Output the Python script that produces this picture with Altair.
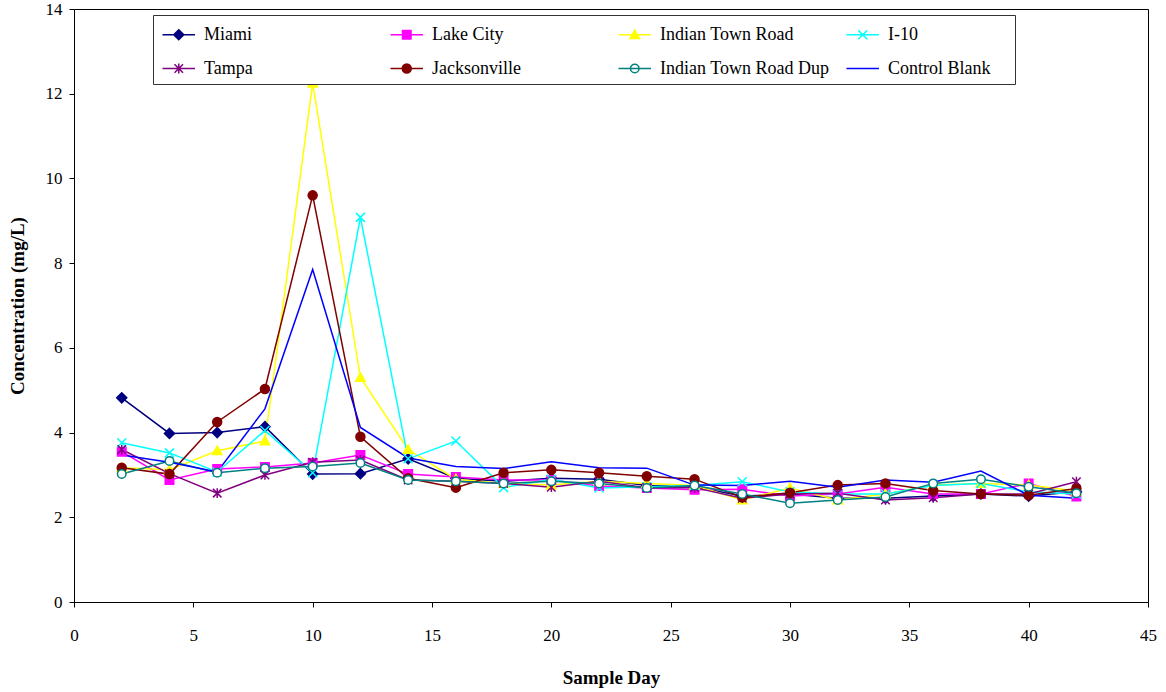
import altair as alt
import pandas as pd

# ---------------- data ----------------
days = [2, 4, 6, 8, 10, 12, 14, 16, 18, 20, 22, 24, 26, 28, 30, 32, 34, 36, 38, 40, 42]

miami = [4.82, 3.98, 4.00, 4.14, 3.02, 3.03, 3.38, 2.92, 2.85, 2.92, 2.90, 2.75, 2.72, 2.50, 2.55, 2.45, 2.45, 2.50, 2.55, 2.50, 2.60]
lake_city = [3.55, 2.88, 3.14, 3.19, 3.28, 3.47, 3.02, 2.95, 2.88, 2.88, 2.74, 2.69, 2.65, 2.66, 2.50, 2.55, 2.71, 2.55, 2.55, 2.80, 2.49]
indian_town_road = [3.17, 3.12, 3.57, 3.80, 12.25, 5.30, 3.60, 2.90, 2.80, 2.76, 2.85, 2.80, 2.75, 2.41, 2.69, 2.41, 2.55, 2.76, 2.80, 2.76, 2.62]
i10 = [3.76, 3.52, 3.07, 4.05, 3.05, 9.08, 3.38, 3.80, 2.70, 2.90, 2.69, 2.72, 2.75, 2.84, 2.60, 2.55, 2.55, 2.75, 2.80, 2.60, 2.55]
tampa = [3.60, 3.03, 2.57, 3.00, 3.30, 3.35, 2.88, 2.85, 2.80, 2.71, 2.85, 2.70, 2.70, 2.45, 2.55, 2.57, 2.41, 2.46, 2.55, 2.55, 2.84]
jacksonville = [3.17, 3.02, 4.25, 5.03, 9.60, 3.90, 2.92, 2.70, 3.05, 3.12, 3.05, 2.97, 2.90, 2.47, 2.58, 2.76, 2.80, 2.63, 2.55, 2.52, 2.68]
itr_dup = [3.02, 3.33, 3.05, 3.16, 3.20, 3.28, 2.88, 2.85, 2.80, 2.85, 2.80, 2.69, 2.75, 2.55, 2.33, 2.41, 2.48, 2.80, 2.90, 2.72, 2.57]
control_blank = [3.47, 3.30, 3.07, 4.56, 7.85, 4.12, 3.40, 3.20, 3.15, 3.31, 3.17, 3.16, 2.76, 2.75, 2.85, 2.71, 2.88, 2.83, 3.09, 2.52, 2.45]

series_names = ["Miami", "Lake City", "Indian Town Road", "I-10",
                "Tampa", "Jacksonville", "Indian Town Road Dup", "Control Blank"]
series_values = [miami, lake_city, indian_town_road, i10,
                 tampa, jacksonville, itr_dup, control_blank]

# ---------------- styles ----------------
colors = ["#000080", "#FF00FF", "#FFFF00", "#00FFFF",
          "#800080", "#800000", "#008080", "#0000FF"]
fills = ["#000080", "#FF00FF", "#FFFF00", "transparent",
         "transparent", "#800000", "#FFFFFF", "transparent"]


def diamond(s, c=0.0):
    return f"M{c},{-s}L{c+s},0L{c},{s}L{c-s},0Z"


def square(s, c=0.0):
    return f"M{c-s},{-s}L{c+s},{-s}L{c+s},{s}L{c-s},{s}Z"


def triangle(s, c=0.0):
    return f"M{c},{-s}L{c+s},{0.8*s}L{c-s},{0.8*s}Z"


def xshape(s, c=0.0):
    return f"M{c-s},{-s}L{c+s},{s}M{c-s},{s}L{c+s},{-s}"


def star(s, c=0.0):
    return xshape(s, c) + f"M{c},{-1.15*s}L{c},{1.15*s}"


def circle(s, c=0.0):
    return f"M{c+s},0A{s},{s} 0 1,1 {c-s},0A{s},{s} 0 1,1 {c+s},0Z"


shape_fns = [diamond, square, triangle, xshape, star, circle, circle]
shape_scale = [1.0, 0.85, 0.95, 0.9, 0.85, 0.9, 0.85]

main_paths = [fn(k) for fn, k in zip(shape_fns, shape_scale)]
leg_k = 0.4
leg_c = 0.5
leg_line = f"M{leg_c-1.3},0L{leg_c+1.3},0"
legend_paths = [leg_line + fn(k * leg_k, leg_c) for fn, k in zip(shape_fns, shape_scale)] + [leg_line]

rows = []
for name, vals in zip(series_names, series_values):
    for d, v in zip(days, vals):
        rows.append({"day": d, "value": v, "series": name})
df = pd.DataFrame(rows)

FONT = "Liberation Serif"
NB = "\u00a0"
ZW = "\u200b"
label_expr = (
    f"datum.label == 'Miami' ? 'Miami{NB*27}{ZW}' : "
    f"datum.label == 'Jacksonville' ? 'Jacksonville{NB*18}{ZW}' : "
    f"datum.label == 'Control Blank' ? 'Control Blank{NB*4}{ZW}' : datum.label"
)

x_enc = alt.X("day:Q",
              scale=alt.Scale(domain=[0, 45], nice=False),
              axis=alt.Axis(values=list(range(0, 46, 5)), grid=False, tickSize=5,
                            labelFont=FONT, labelFontSize=17, labelColor="black",
                            labelPadding=20, labelFlush=False,
                            title="Sample Day", titleFont=FONT, titleFontSize=19,
                            titleFontWeight="bold", titleColor="black", titlePadding=25,
                            domainColor="black", tickColor="black"))
y_enc = alt.Y("value:Q",
              scale=alt.Scale(domain=[0, 14], nice=False),
              axis=alt.Axis(values=list(range(0, 15, 2)), grid=False, tickSize=5,
                            labelFont=FONT, labelFontSize=17, labelColor="black",
                            labelPadding=7,
                            title="Concentration (mg/L)", titleFont=FONT, titleFontSize=19,
                            titleFontWeight="bold", titleColor="black", titlePadding=18,
                            domainColor="black", tickColor="black"))

lines = alt.Chart(df).mark_line(strokeWidth=1.5).encode(
    x=x_enc, y=y_enc,
    stroke=alt.Stroke("series:N", scale=alt.Scale(domain=series_names, range=colors), legend=None),
    order=alt.Order("day:Q"),
)

pts_names = series_names[:7]
points = alt.Chart(df).transform_filter(
    alt.datum.series != "Control Blank"
).mark_point(filled=True, strokeWidth=1.5, size=100, opacity=1).encode(
    x=x_enc, y=y_enc,
    stroke=alt.Stroke("series:N", scale=alt.Scale(domain=pts_names, range=colors[:7]), legend=None),
    fill=alt.Fill("series:N", scale=alt.Scale(domain=pts_names, range=fills[:7]), legend=None),
    shape=alt.Shape("series:N", scale=alt.Scale(domain=pts_names, range=main_paths), legend=None),
)

leg = alt.Legend(title=None, orient="none", legendX=79, legendY=6, columns=4,
                 direction="horizontal",
                 symbolSize=625, symbolStrokeWidth=1.5, symbolOpacity=1,
                 labelFont=FONT, labelFontSize=18, labelColor="black", labelLimit=400,
                 labelOffset=18, columnPadding=13, rowPadding=11, padding=6,
                 strokeColor="#333333", fillColor="white", gridAlign="each",
                 labelExpr=label_expr)

legend_layer = alt.Chart(df).transform_filter("false").mark_point(
    filled=True, strokeWidth=1.5, size=625, opacity=1
).encode(
    x=x_enc, y=y_enc,
    stroke=alt.Stroke("series:N", scale=alt.Scale(domain=series_names, range=colors), legend=leg),
    fill=alt.Fill("series:N", scale=alt.Scale(domain=series_names, range=fills), legend=leg),
    shape=alt.Shape("series:N", scale=alt.Scale(domain=series_names, range=legend_paths), legend=leg),
)

chart = alt.layer(lines, points, legend_layer).resolve_scale(
    stroke="independent", fill="independent", shape="independent"
).properties(
    width=1074, height=593,
    padding={"left": 74, "top": 9, "right": 18, "bottom": 90},
    autosize=alt.AutoSizeParams(type="none"),
    background="white",
).configure_view(stroke="black", strokeWidth=1)

chart.save("out.html", embed_options={"renderer": "svg", "actions": False})
